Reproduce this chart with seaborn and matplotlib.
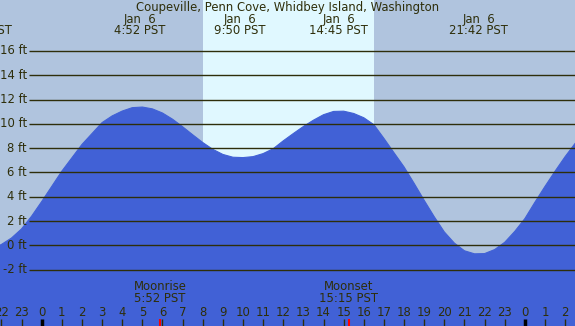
import matplotlib
matplotlib.use('Agg')
import numpy as np
import pandas as pd
import matplotlib.pyplot as plt
import seaborn as sns

# --- data ---
title = 'Coupeville, Penn Cove, Whidbey Island, Washington'

# tide height (ft) every half hour, hours relative to midnight Jan 6
hours = [-2.5, -2.0, -1.5, -1.0, -0.5, 0.0, 0.5, 1.0, 1.5, 2.0,
         2.5, 3.0, 3.5, 4.0, 4.5, 5.0, 5.5, 6.0, 6.5, 7.0,
         7.5, 8.0, 8.5, 9.0, 9.5, 10.0, 10.5, 11.0, 11.5, 12.0,
         12.5, 13.0, 13.5, 14.0, 14.5, 15.0, 15.5, 16.0, 16.5, 17.0,
         17.5, 18.0, 18.5, 19.0, 19.5, 20.0, 20.5, 21.0, 21.5, 22.0,
         22.5, 23.0, 23.5, 24.0, 24.5, 25.0, 25.5, 26.0, 26.5, 27.0]
heights = [-0.3, 0.07, 0.6, 1.35, 2.4, 3.6, 4.85, 6.1, 7.2, 8.3,
           9.2, 10.1, 10.65, 11.05, 11.33, 11.38, 11.23, 10.89, 10.38, 9.76,
           9.1, 8.46, 7.9, 7.48, 7.25, 7.22, 7.3, 7.55, 7.95, 8.6,
           9.2, 9.78, 10.3, 10.75, 11.02, 11.04, 10.85, 10.5, 9.93, 8.8,
           7.62, 6.45, 5.1, 3.7, 2.35, 1.1, 0.18, -0.45, -0.7, -0.68,
           -0.35, 0.25, 1.15, 2.2, 3.55, 4.85, 6.1, 7.3, 8.4, 9.4]

# high / low events shown at the top
event_hours = [-2.92, 4.87, 9.83, 14.75, 21.7]
event_dates = ['Jan  5', 'Jan  6', 'Jan  6', 'Jan  6', 'Jan  6']
event_times = ['21:05 PST', '4:52 PST', '9:50 PST', '14:45 PST', '21:42 PST']

sunrise, sunset = 8.0, 16.52
moon_hours = [5.87, 15.25]
moon_names = ['Moonrise', 'Moonset']
moon_times = ['5:52 PST', '15:15 PST']

grid_ft = [16, 14, 12, 10, 8, 6, 4, 2, 0, -2]
tick_hours = list(range(-2, 27))

# --- style ---
night = '#b0c4de'
day = '#e0f8ff'
water = '#4161d6'
ink = '#2e2e0a'

sns.set_style('white')
plt.rcParams['font.family'] = ['DejaVu Sans']
fs = 8.4

df = pd.DataFrame({'hour': hours, 'ft': heights})

fig = plt.figure(figsize=(5.75, 3.26), dpi=100)
ax = fig.add_axes([0, 0, 1, 1])
ax.set_facecolor(night)
ax.set_xlim(-2.07, 26.49)
ax.set_ylim(-6.64, 20.19)
ax.axis('off')
fig.patch.set_facecolor(night)

ax.axvspan(sunrise, sunset, color=day, lw=0, zorder=1)

ax.fill_between(df['hour'], df['ft'], -10, color=water, lw=0, zorder=2)
sns.lineplot(data=df, x='hour', y='ft', color=water, lw=0.8, ax=ax, zorder=2)

# grid lines with ft labels
ytr = ax.get_yaxis_transform()
ax.hlines(grid_ft, 29 / 575, 1, transform=ytr, color=ink, lw=1.0, zorder=3)
for g in grid_ft:
    ax.text(27 / 575, g, f'{g} ft', transform=ytr, ha='right', va='center',
            fontsize=fs, color=ink, zorder=4)

# title and events
ax.text(0.5, 1 - 7 / 326, title, transform=ax.transAxes, ha='center',
        va='center', fontsize=fs, color=ink, zorder=4)
xtr = ax.get_xaxis_transform()
for h, d, t in zip(event_hours, event_dates, event_times):
    ax.text(h, 1 - 19 / 326, d, transform=xtr, ha='center', va='center',
            fontsize=fs, color=ink, zorder=4)
    ax.text(h, 1 - 31 / 326, t, transform=xtr, ha='center', va='center',
            fontsize=fs, color=ink, zorder=4)

# moon events
for h, n, t in zip(moon_hours, moon_names, moon_times):
    ax.text(h, (326 - 287) / 326, n, transform=xtr, ha='center', va='center',
            fontsize=fs, color=ink, zorder=4)
    ax.text(h, (326 - 299) / 326, t, transform=xtr, ha='center', va='center',
            fontsize=fs, color=ink, zorder=4)
    ax.vlines(h, 0, 7 / 326, transform=xtr, color='red', lw=1.5, zorder=4)

# hour ticks along the bottom
for h in tick_hours:
    midnight = h % 24 == 0
    ax.vlines(h, 0, 7 / 326, transform=xtr, color='black' if midnight else ink,
              lw=2.5 if midnight else 1.0, zorder=4)
    ax.text(h, (326 - 312.5) / 326, str(h % 24), transform=xtr, ha='center',
            va='center', fontsize=fs, color=ink, zorder=4)

fig.savefig('out.png', dpi=100, facecolor=night)
